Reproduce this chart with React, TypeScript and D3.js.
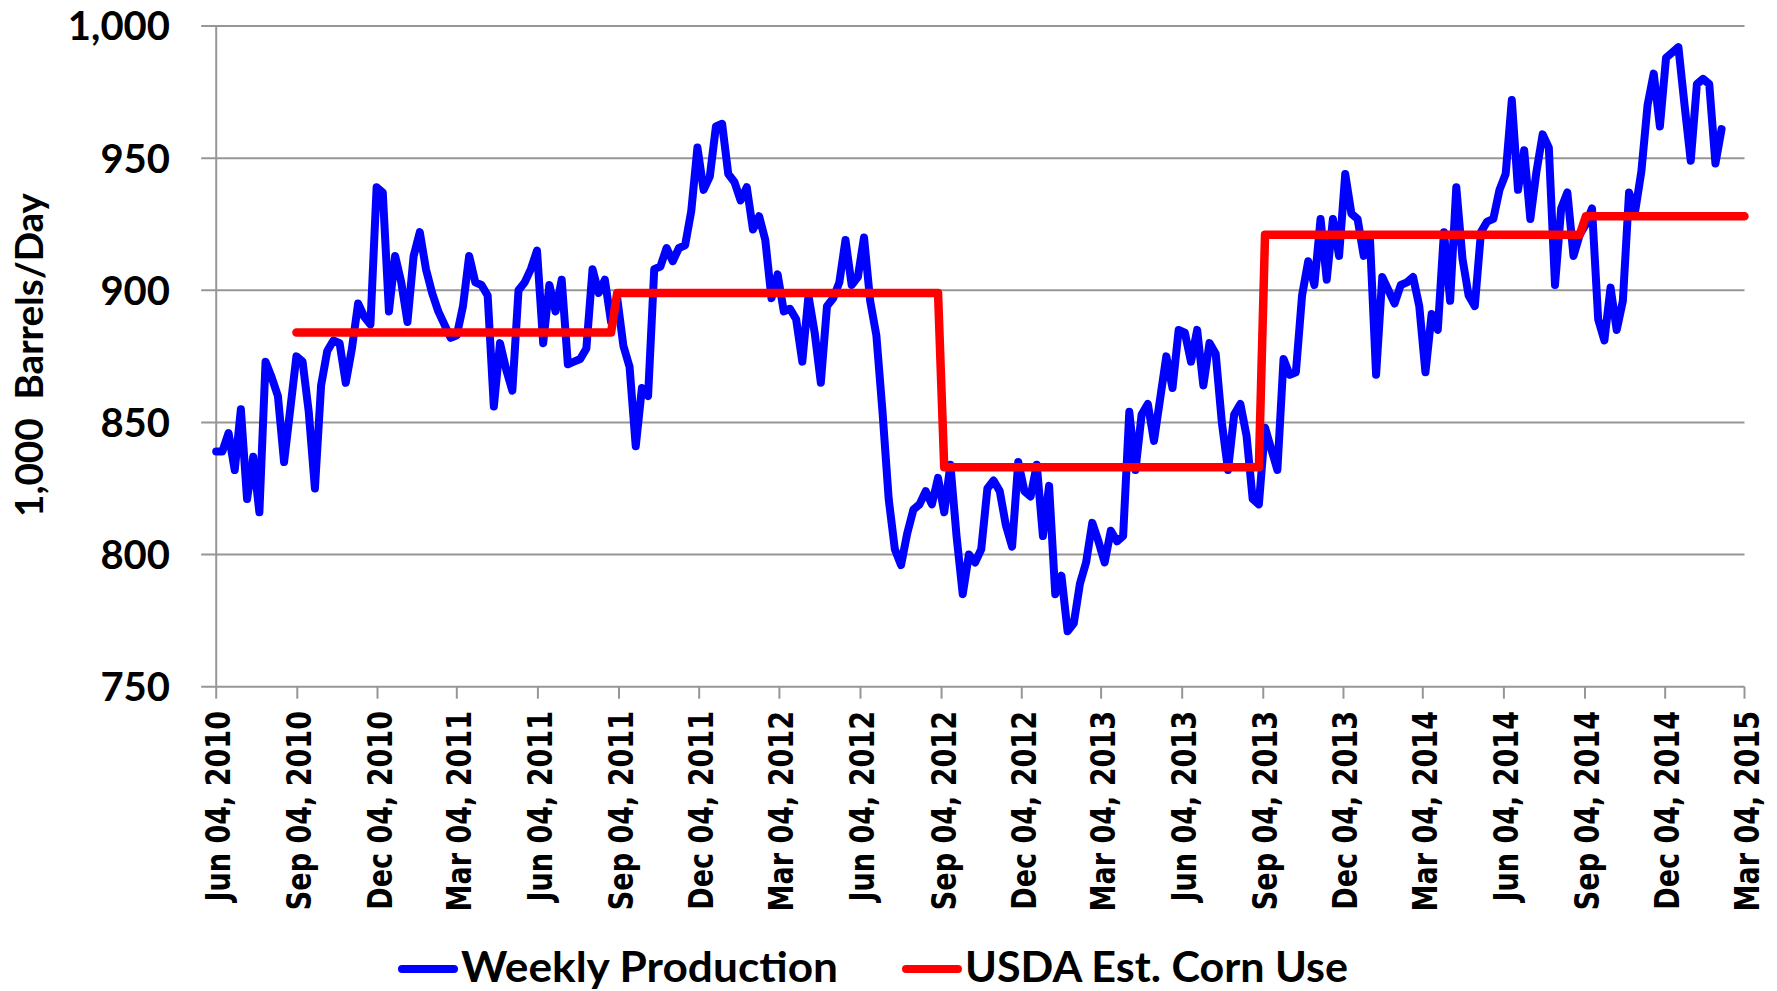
import React, { useEffect, useRef } from 'react';
import * as d3 from 'd3';

// weekly data, weeks ending Friday, first week Jun 04 2010
const firstWeek = '2010-06-04';
const weeklyProduction = [
    839, 839, 846, 832, 855, 821, 837, 816, 873, 867,
    860, 835, 855, 875, 873, 854, 825, 864, 877, 881,
    880, 865, 878, 895, 890, 887, 939, 937, 892, 913,
    903, 888, 913, 922, 908, 899, 892, 887, 882, 883,
    894, 913, 903, 902, 898, 856, 880, 870, 862, 900,
    903, 908, 915, 880, 902, 892, 904, 872, 873, 874,
    878, 908, 899, 904, 888, 897, 879, 871, 841, 863,
    860, 908, 909, 916, 911, 916, 917, 930, 954, 938,
    943, 962, 963, 944, 941, 934, 939, 923, 928, 919,
    897, 906, 892, 893, 889, 873, 898, 884, 865, 894,
    897, 903, 919, 902, 905, 920, 896, 883, 854, 821,
    802, 796, 808, 817, 819, 824, 819, 829, 816, 834,
    807, 785, 800, 797, 802, 825, 828, 824, 811, 803,
    835, 824, 822, 834, 807, 826, 785, 792, 771, 774,
    789, 797, 812, 805, 797, 809, 805, 807, 854, 832,
    853, 857, 843, 859, 875, 863, 885, 884, 873, 885,
    864, 880, 876, 850, 832, 853, 857, 845, 821, 819,
    848, 840, 832, 874, 868, 869, 898, 911, 902, 927,
    904, 927, 913, 944, 929, 927, 913, 920, 868, 905,
    900, 895, 902, 903, 905, 894, 869, 891, 885, 922,
    896, 939, 912, 898, 894, 922, 926, 927, 938, 944,
    972, 938, 953, 927, 945, 959, 954, 902, 931, 937,
    913, 921, 925, 931, 889, 881, 901, 885, 896, 937,
    930, 945, 970, 982, 962, 988, 990, 992, 970, 949,
    978, 980, 978, 948, 961
];

// USDA estimate per marketing year
const usdaStarts = ['2010-09-03', '2011-09-02', '2012-09-07', '2013-09-06', '2014-09-05'];
const usdaEnds = ['2011-08-26', '2012-08-31', '2013-08-30', '2014-08-29', '2015-03-04'];
const usdaValues = [884, 899, 833, 921, 928];

const xTickDates = [
    '2010-06-04', '2010-09-04', '2010-12-04', '2011-03-04', '2011-06-04',
    '2011-09-04', '2011-12-04', '2012-03-04', '2012-06-04', '2012-09-04',
    '2012-12-04', '2013-03-04', '2013-06-04', '2013-09-04', '2013-12-04',
    '2014-03-04', '2014-06-04', '2014-09-04', '2014-12-04', '2015-03-04'
];
const yTicks = [750, 800, 850, 900, 950, 1000];

const seriesNames = ['Weekly Production', 'USDA Est. Corn Use'];
const yTitle = '1,000  Barrels/Day';

const App = () => {
    const svgRef = useRef<SVGSVGElement>(null);

    useEffect(() => {
        const width = 1777;
        const height = 991;
        const left = 216.2, right = 1744.5, top = 26, bottom = 686.7;
        const gridColor = '#969696';
        const labelFont = 'Lato, "Open Sans", sans-serif';

        const parseDate = d3.timeParse('%Y-%m-%d');
        const start = parseDate(firstWeek) as Date;

        const production = weeklyProduction.map((v, i) => ({
            date: d3.timeWeek.offset(start, i),
            value: v
        }));

        const usda: { date: Date; value: number }[] = [];
        usdaValues.forEach((v, i) => {
            usda.push({ date: parseDate(usdaStarts[i]) as Date, value: v });
            usda.push({ date: parseDate(usdaEnds[i]) as Date, value: v });
        });

        const ticks = xTickDates.map(d => parseDate(d) as Date);

        const svg = d3.select(svgRef.current)
            .attr('width', width)
            .attr('height', height);

        svg.selectAll('*').remove();

        svg.append('rect')
            .attr('width', width)
            .attr('height', height)
            .attr('fill', '#fff');

        const x = d3.scaleTime()
            .domain([ticks[0], ticks[ticks.length - 1]])
            .range([left, right]);

        const y = d3.scaleLinear()
            .domain([750, 1000])
            .range([bottom, top]);

        // gridlines + y tick marks
        svg.append('g')
            .selectAll('line')
            .data(yTicks)
            .join('line')
            .attr('x1', left - 15)
            .attr('x2', right)
            .attr('y1', d => y(d))
            .attr('y2', d => y(d))
            .attr('stroke', gridColor)
            .attr('stroke-width', 2);

        // left axis
        svg.append('line')
            .attr('x1', left).attr('x2', left)
            .attr('y1', top).attr('y2', bottom)
            .attr('stroke', gridColor)
            .attr('stroke-width', 2);

        // x tick marks
        svg.append('g')
            .selectAll('line')
            .data(ticks)
            .join('line')
            .attr('x1', d => x(d))
            .attr('x2', d => x(d))
            .attr('y1', bottom)
            .attr('y2', bottom + 12)
            .attr('stroke', gridColor)
            .attr('stroke-width', 2);

        // y tick labels
        svg.append('g')
            .selectAll('text')
            .data(yTicks)
            .join('text')
            .attr('transform', d => `translate(170,${y(d)})`)
            .attr('dy', '0.36em')
            .attr('text-anchor', 'end')
            .attr('font-family', labelFont)
            .attr('font-weight', 700)
            .attr('font-size', 40)
            .attr('fill', '#000')
            .text(d => d3.format(',')(d));

        // x tick labels
        const fmt = d3.timeFormat('%b %d, %Y');
        svg.append('g')
            .selectAll('text')
            .data(ticks)
            .join('text')
            .attr('transform', d => `translate(${x(d)},711) rotate(-90) scale(0.82,1)`)
            .attr('x', 0)
            .attr('y', 14)
            .attr('text-anchor', 'end')
            .attr('font-family', '"DejaVu Sans", Verdana, sans-serif')
            .attr('font-weight', 700)
            .attr('font-size', 33)
            .attr('fill', '#000')
            .text(d => fmt(d));

        // y title
        svg.append('text')
            .attr('transform', `translate(43,355) rotate(-90)`)
            .attr('text-anchor', 'middle')
            .attr('font-family', labelFont)
            .attr('font-weight', 700)
            .attr('font-size', 38)
            .attr('textLength', 324)
            .attr('lengthAdjust', 'spacingAndGlyphs')
            .style('white-space', 'pre')
            .attr('fill', '#000')
            .text(yTitle);

        const line = d3.line<{ date: Date; value: number }>()
            .x(d => x(d.date))
            .y(d => y(d.value));

        svg.append('path')
            .datum(production)
            .attr('fill', 'none')
            .attr('stroke', '#0000ff')
            .attr('stroke-width', 8)
            .attr('stroke-linejoin', 'round')
            .attr('stroke-linecap', 'round')
            .attr('d', line);

        svg.append('path')
            .datum(usda)
            .attr('fill', 'none')
            .attr('stroke', '#ff0000')
            .attr('stroke-width', 8.5)
            .attr('stroke-linejoin', 'round')
            .attr('stroke-linecap', 'round')
            .attr('d', line);

        // legend
        const legend = [
            { name: seriesNames[0], color: '#0000ff', x: 402, len: 377 },
            { name: seriesNames[1], color: '#ff0000', x: 906, len: 383 }
        ];
        const lg = svg.append('g');
        legend.forEach(item => {
            lg.append('line')
                .attr('x1', item.x).attr('x2', item.x + 52)
                .attr('y1', 969).attr('y2', 969)
                .attr('stroke', item.color)
                .attr('stroke-width', 8)
                .attr('stroke-linecap', 'round');
            lg.append('text')
                .attr('x', item.x + 59)
                .attr('y', 982)
                .attr('font-family', labelFont)
                .attr('font-weight', 700)
                .attr('font-size', 42)
                .attr('textLength', item.len)
                .attr('lengthAdjust', 'spacingAndGlyphs')
                .attr('fill', '#000')
                .text(item.name);
        });
    }, []);

    return <svg ref={svgRef} style={{ position: 'fixed', left: 0, top: 0, display: 'block' }}></svg>;
};

export default App;
